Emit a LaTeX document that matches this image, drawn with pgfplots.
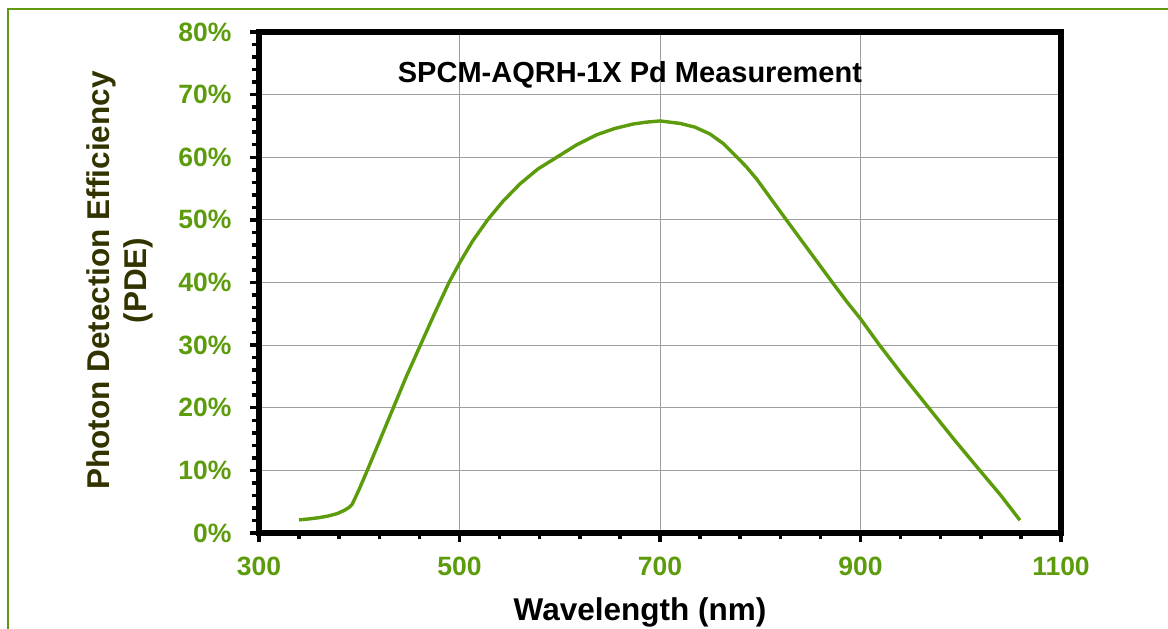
\documentclass[border=0pt]{standalone}
\usepackage{pgfplots}
\pgfplotsset{compat=1.18}
\usepackage{fontspec}
\setmainfont{Liberation Sans}
\definecolor{pgreen}{RGB}{92,156,12}
\definecolor{fgreen}{RGB}{96,152,16}
\definecolor{olive}{RGB}{51,51,0}
\begin{document}
\begin{tikzpicture}[x=1pt,y=1pt]
\useasboundingbox (0,0) rectangle (1168,629);
\clip (0,0) rectangle (1168,629);
\draw[fgreen, line width=2pt] (8,-20) -- (8,620) -- (1200,620);
\begin{axis}[
  at={(259pt,96pt)}, anchor=south west,
  scale only axis, width=802pt, height=501pt,
  xmin=300, xmax=1100, ymin=0, ymax=80,
  xtick={300,500,...,1100}, ytick={0,10,...,80},
  minor x tick num=4, minor y tick num=4,
  tick pos=left, tick align=outside,
  major tick length=9pt, minor tick length=6.5pt,
  every major tick/.append style={black, line width=3.5pt},
  every minor tick/.append style={black, line width=3.5pt},
  axis line style={black, line width=5.5pt},
  grid=major,
  major grid style={color=gray!75, line width=0.9pt},
  /pgf/number format/assume math mode=true,
  /pgf/number format/1000 sep={},
  yticklabel={\pgfmathprintnumber{\tick}\%},
  ticklabel style={font=\fontsize{26.5}{30}\selectfont\bfseries, text=pgreen},
  yticklabel style={xshift=-15pt},
  xticklabel style={yshift=-11pt},
  clip=false,
]
\addplot[color=pgreen, line width=3.4pt, line join=round] coordinates {
(340,2.1) (350,2.25) (360,2.45) (370,2.75) (378,3.1) (385,3.6) (390,4.1) (393,4.6)
(400,7.0) (408,10.0) (420,14.6) (434,20.0) (447,25.0) (461,30.0) (475,35.0)
(489.5,40.0) (500,43.1) (513,46.6) (528,50.0) (543,52.9) (560,55.7) (578,58.1)
(597,60.0) (617,62.0) (637,63.6) (655,64.6) (673,65.3) (686,65.6) (700,65.8)
(720,65.4) (735,64.8) (750,63.7) (763,62.2) (775,60.3) (786,58.5) (796.5,56.5)
(811,53.3) (826,50.0) (849,45.0) (872,40.0) (886,37.0) (900,34.2) (919,30.0)
(943,25.0) (968,20.0) (993,15.0) (1019,10.0) (1040,6.0) (1059,2.05)
};
\draw[black, line width=5.5pt] (rel axis cs:0,0) rectangle (rel axis cs:1,1);
\node[font=\fontsize{29}{32}\selectfont\bfseries, text=black] at (axis cs:670,73.1) {SPCM-AQRH-1X Pd Measurement};
\end{axis}
\node[rotate=90, align=center, text=olive, font=\fontsize{31.5}{37}\selectfont\bfseries] at (120,348.5) {Photon Detection Efficiency\\(PDE)};
\node[anchor=base, text=black, font=\fontsize{31.5}{37}\selectfont\bfseries] at (640,8.4) {Wavelength (nm)};
\end{tikzpicture}
\end{document}
